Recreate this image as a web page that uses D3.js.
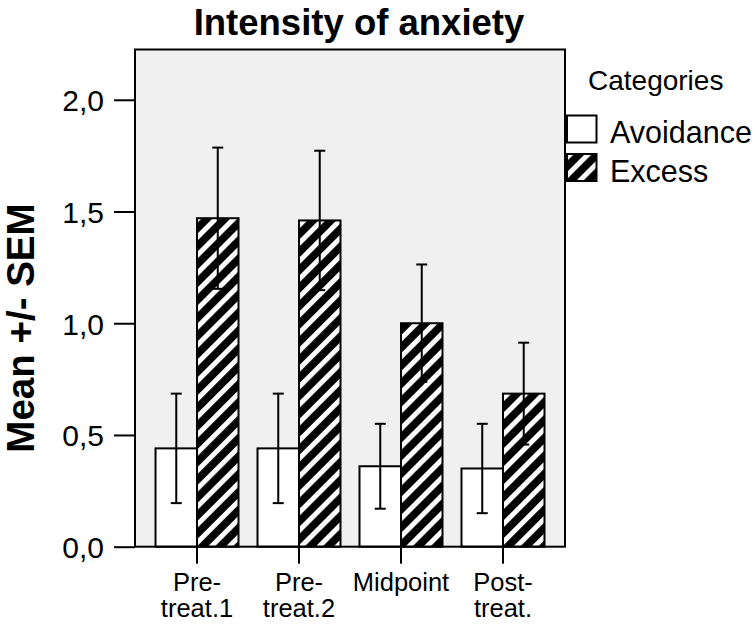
<!DOCTYPE html>
<html>
<head>
<meta charset="utf-8">
<script src="https://cdn.jsdelivr.net/npm/d3@7"></script>
<style>
  body { margin: 0; background: #fff; }
  text { font-family: Arial, "Liberation Sans", Helvetica, sans-serif; }
</style>
</head>
<body>
<svg id="chart" width="756" height="626"></svg>
<script>
const groups = ["Pre-treat.1", "Pre-treat.2", "Midpoint", "Post-treat."];
const groupLines = [["Pre-", "treat.1"], ["Pre-", "treat.2"], ["Midpoint"], ["Post-", "treat."]];
const seriesNames = ["Avoidance", "Excess"];
const avoidanceMean = [0.44, 0.44, 0.36, 0.35];
const avoidanceSem = [0.245, 0.245, 0.19, 0.20];
const excessMean = [1.47, 1.46, 1.00, 0.685];
const excessSem = [0.316, 0.312, 0.263, 0.228];
const yTicks = [0, 0.5, 1.0, 1.5, 2.0];

const svg = d3.select("#chart");

const plotLeft = 135, plotRight = 565, plotTop = 49.5, plotBottom = 546.7;

// hatch pattern for the Excess bars
const defs = svg.append("defs");
const pat = defs.append("pattern")
  .attr("id", "hatch")
  .attr("patternUnits", "userSpaceOnUse")
  .attr("width", 12.7)
  .attr("height", 10)
  .attr("patternTransform", "rotate(45)");
pat.append("rect").attr("width", 12.7).attr("height", 10).attr("fill", "#000");
pat.append("rect").attr("width", 5).attr("height", 10).attr("fill", "#fff");

const x0 = d3.scaleBand()
  .domain(groups)
  .range([plotLeft, plotRight])
  .paddingInner(0)
  .paddingOuter(0.108);

const x1 = d3.scaleBand()
  .domain(seriesNames)
  .range([0, x0.bandwidth()])
  .paddingInner(0)
  .paddingOuter(0.229);

const y = d3.scaleLinear()
  .domain([0, 2.225])
  .range([plotBottom, plotTop]);

const fills = { Avoidance: "#fff", Excess: "url(#hatch)" };

// plot background
svg.append("rect")
  .attr("x", plotLeft).attr("y", plotTop)
  .attr("width", plotRight - plotLeft).attr("height", plotBottom - plotTop)
  .attr("fill", "#f0f0f0");

const rows = [];
groups.forEach((g, i) => {
  rows.push({ group: g, series: "Avoidance", mean: avoidanceMean[i], sem: avoidanceSem[i] });
  rows.push({ group: g, series: "Excess", mean: excessMean[i], sem: excessSem[i] });
});

// bars
svg.append("g").selectAll("rect")
  .data(rows)
  .enter().append("rect")
  .attr("x", d => x0(d.group) + x1(d.series))
  .attr("y", d => y(d.mean))
  .attr("width", x1.bandwidth())
  .attr("height", d => y(0) - y(d.mean))
  .attr("fill", d => fills[d.series])
  .attr("stroke", "#000")
  .attr("stroke-width", 2);

// error bars
const err = svg.append("g")
  .attr("stroke", "#000")
  .attr("stroke-width", 2)
  .selectAll("g")
  .data(rows)
  .enter().append("g")
  .attr("transform", d => `translate(${x0(d.group) + x1(d.series) + x1.bandwidth() / 2},0)`);

err.append("line")
  .attr("y1", d => y(d.mean - d.sem))
  .attr("y2", d => y(d.mean + d.sem));
err.append("line")
  .attr("x1", -5.5).attr("x2", 5.5)
  .attr("y1", d => y(d.mean + d.sem))
  .attr("y2", d => y(d.mean + d.sem));
err.append("line")
  .attr("x1", -5.5).attr("x2", 5.5)
  .attr("y1", d => y(d.mean - d.sem))
  .attr("y2", d => y(d.mean - d.sem));

// frame
svg.append("rect")
  .attr("x", plotLeft).attr("y", plotTop)
  .attr("width", plotRight - plotLeft).attr("height", plotBottom - plotTop)
  .attr("fill", "none")
  .attr("stroke", "#000")
  .attr("stroke-width", 2);

// y axis
const yAxis = svg.append("g")
  .attr("transform", `translate(${plotLeft},0)`)
  .call(d3.axisLeft(y)
    .tickValues(yTicks)
    .tickSize(21)
    .tickPadding(10)
    .tickFormat(d => d3.format(".1f")(d).replace(".", ",")));
yAxis.select(".domain").remove();
yAxis.selectAll(".tick line").attr("stroke", "#000").attr("stroke-width", 2);
yAxis.selectAll(".tick text")
  .attr("fill", "#000")
  .style("font-size", "30px")
  .attr("dy", "0.36em");

// x axis
const xAxis = svg.append("g")
  .attr("transform", `translate(0,${plotBottom})`)
  .call(d3.axisBottom(x0).tickSize(17).tickFormat(""));
xAxis.select(".domain").remove();
xAxis.selectAll(".tick line").attr("stroke", "#000").attr("stroke-width", 2);

const xLabels = svg.append("g").selectAll("text")
  .data(groups)
  .enter().append("text")
  .attr("x", d => x0(d) + x0.bandwidth() / 2)
  .attr("y", 590.5)
  .attr("text-anchor", "middle")
  .style("font-size", "25.5px")
  .attr("fill", "#000");
xLabels.selectAll("tspan")
  .data((d, i) => groupLines[i])
  .enter().append("tspan")
  .attr("x", function () { return d3.select(this.parentNode).attr("x"); })
  .attr("dy", (d, i) => i === 0 ? 0 : 26.5)
  .text(d => d);

// title
svg.append("text")
  .attr("x", (plotLeft + plotRight) / 2 + 9)
  .attr("y", 35)
  .attr("text-anchor", "middle")
  .style("font-size", "36.5px")
  .style("font-weight", "bold")
  .text("Intensity of anxiety");

// y label
svg.append("text")
  .attr("transform", "translate(34,328) rotate(-90)")
  .attr("text-anchor", "middle")
  .style("font-size", "38.5px")
  .style("font-weight", "bold")
  .text("Mean +/- SEM");

// legend
svg.append("text")
  .attr("x", 588)
  .attr("y", 89.5)
  .style("font-size", "28px")
  .text("Categories");

const legend = svg.append("g").selectAll("g")
  .data(seriesNames)
  .enter().append("g")
  .attr("transform", (d, i) => `translate(567,${115.5 + i * 38.5})`);
legend.append("rect")
  .attr("width", 29.5)
  .attr("height", 27)
  .attr("fill", d => fills[d])
  .attr("stroke", "#000")
  .attr("stroke-width", 2);
legend.append("text")
  .attr("x", 43)
  .attr("y", 27.5)
  .style("font-size", "30.5px")
  .text(d => d);
</script>
</body>
</html>
